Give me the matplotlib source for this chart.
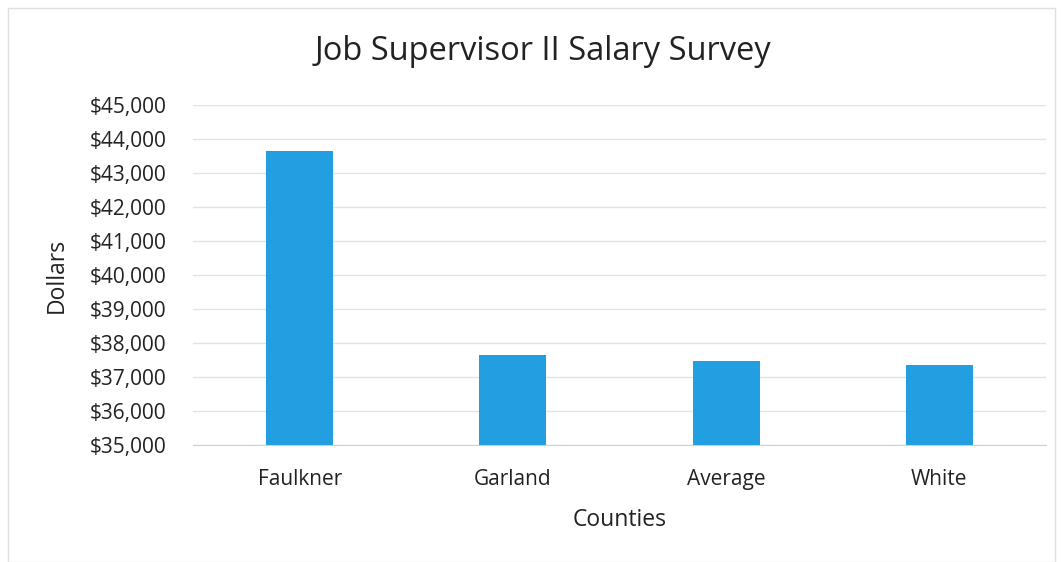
import matplotlib
matplotlib.use("Agg")
import matplotlib.pyplot as plt
from matplotlib.ticker import FuncFormatter, MultipleLocator
from matplotlib.patches import Rectangle

counties = ["Faulkner", "Garland", "Average", "White"]
salaries = [43650, 37650, 37480, 37340]

plt.rcParams['font.family'] = ['Open Sans', 'DejaVu Sans']

fig = plt.figure(figsize=(10.63, 5.62), dpi=100)
ax = fig.add_axes([193/1063, (562-445)/562, (1046-193)/1063, (445-105)/562])

x = range(len(counties))
base = 35000
ax.bar(x, [s - base for s in salaries], bottom=base, width=0.315, color='#229fe0', zorder=3)

ax.set_ylim(35000, 45000)
ax.set_xlim(-0.5, 3.5)
ax.yaxis.set_major_locator(MultipleLocator(1000))
ax.yaxis.set_major_formatter(FuncFormatter(lambda v, p: f"${v:,.0f}"))
ax.set_xticks(list(x))
ax.set_xticklabels(counties)
ax.grid(axis='y', color='#e3e3e3', linewidth=1, zorder=0)
for s in ['top', 'right', 'left']:
    ax.spines[s].set_visible(False)
ax.spines['bottom'].set_color('#d0d0d0')
ax.tick_params(axis='both', length=0, labelsize=15, colors='#222222')
ax.tick_params(axis='y', pad=19)
ax.tick_params(axis='x', pad=17)

fig.text(543/1063, 1 - 52/562, "Job Supervisor II Salary Survey", fontsize=23.5,
         color='#222222', ha='center', va='center')
ax.set_xlabel("Counties", fontsize=16.5, color='#222222', labelpad=13)
ax.set_ylabel("Dollars", fontsize=16.5, color='#222222', labelpad=15)

fig.patches.append(Rectangle((8/1063, 0.0), 1 - 16/1063, 1 - 8/562, transform=fig.transFigure,
                             fill=False, edgecolor='#e0e0e0', linewidth=1))

fig.savefig("out.png", dpi=100)
